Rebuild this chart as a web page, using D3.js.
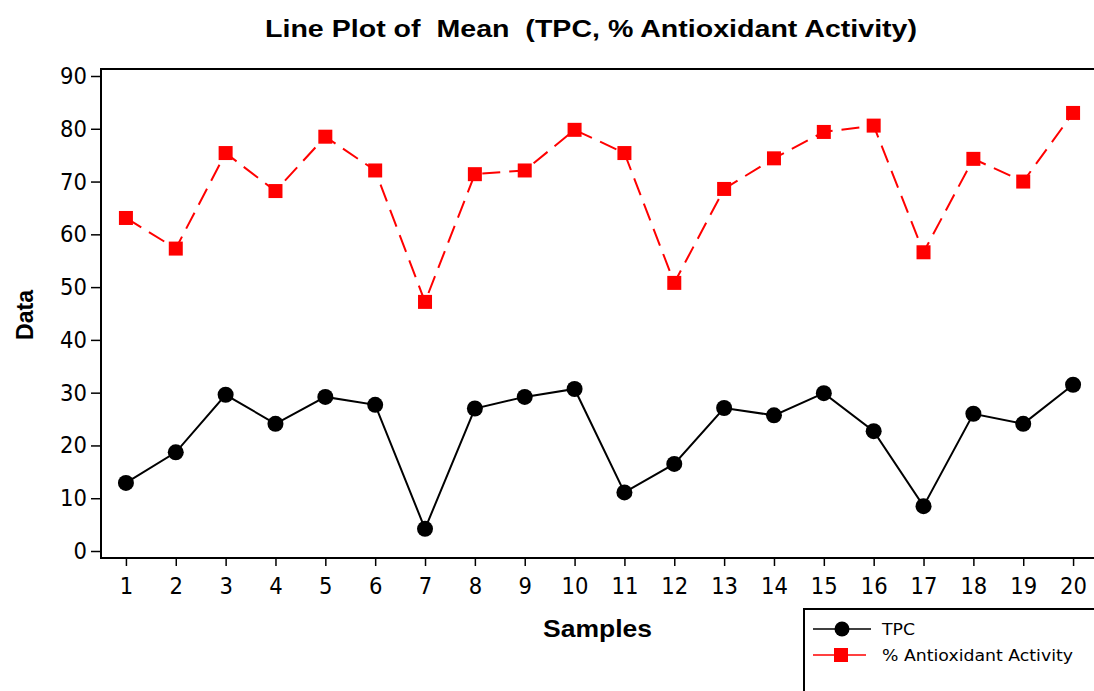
<!DOCTYPE html>
<html><head><meta charset="utf-8">
<script src="https://cdn.jsdelivr.net/npm/d3@7"></script>
<style>body{margin:0;background:#fff}svg{display:block}</style>
</head><body><svg id="c" width="1094" height="691"></svg>
<script>
const samples = d3.range(1, 21);
const tpc = [12.9, 18.7, 29.6, 24.1, 29.2, 27.7, 4.2, 27.0, 29.2, 30.7, 11.1, 16.5, 27.1, 25.7, 29.9, 22.7, 8.5, 26.0, 24.1, 31.5];
const antiox = [63.1, 57.3, 75.4, 68.2, 78.5, 72.1, 47.2, 71.4, 72.1, 79.8, 75.4, 50.8, 68.6, 74.4, 79.4, 80.6, 56.6, 74.3, 70.0, 83.0];
const yTicks = [0, 10, 20, 30, 40, 50, 60, 70, 80, 90];
const seriesNames = ["TPC", "% Antioxidant Activity"];

(function () {
const svg = d3.select("#c");
const pLeft = 101, pTop = 69, pBottom = 558;
const tickFont = "DejaVu Sans Condensed, DejaVu Sans, Tahoma, sans-serif";
const legFont = "DejaVu Sans, Verdana, sans-serif";
const boldFont = "Liberation Sans, Arial, sans-serif";
const x = d3.scaleLinear().domain([0.5, 20.5]).range([pLeft, pLeft + 20 * 49.85]);
const y = d3.scaleLinear().domain([0, 90]).range([551, 76]);

svg.append("text").attr("x", 265).attr("y", 37)
  .attr("font-family", boldFont).attr("font-weight", "bold")
  .attr("font-size", 24).attr("textLength", 652).attr("lengthAdjust", "spacingAndGlyphs")
  .text("Line Plot of\u00a0 Mean\u00a0 (TPC, % Antioxidant Activity)");

svg.append("path").attr("d", `M${pLeft},${pBottom}V${pTop}H1100`).attr("fill", "none")
  .attr("stroke", "#000").attr("stroke-width", 2);
svg.append("line").attr("x1", pLeft - 1).attr("x2", 1100).attr("y1", pBottom).attr("y2", pBottom)
  .attr("stroke", "#000").attr("stroke-width", 2);

const ya = svg.append("g").attr("transform", `translate(${pLeft - 1},0)`)
  .call(d3.axisLeft(y).tickValues(yTicks).tickSize(9).tickPadding(4));
ya.select(".domain").remove();
ya.selectAll(".tick line").attr("stroke-width", 1.5);
ya.selectAll("text").attr("font-family", tickFont).attr("font-size", 23.5).attr("fill", "#000");

const xa = svg.append("g").attr("transform", `translate(0,${pBottom + 1})`)
  .call(d3.axisBottom(x).tickValues(samples).tickSize(7).tickPadding(11).tickFormat(d3.format("d")));
xa.select(".domain").remove();
xa.selectAll(".tick line").attr("stroke-width", 1.5);
xa.selectAll("text").attr("font-family", tickFont).attr("font-size", 23.5).attr("fill", "#000");

svg.append("text").attr("x", 543).attr("y", 637)
  .attr("font-family", boldFont).attr("font-weight", "bold")
  .attr("font-size", 24).attr("textLength", 109).attr("lengthAdjust", "spacingAndGlyphs").text("Samples");
svg.append("text").attr("transform", "translate(33,340) rotate(-90)")
  .attr("font-family", boldFont).attr("font-weight", "bold")
  .attr("font-size", 24).attr("textLength", 50).attr("lengthAdjust", "spacingAndGlyphs").text("Data");

const line = d3.line().x((d, i) => x(samples[i])).y(d => y(d));

svg.append("path").datum(antiox).attr("d", line).attr("fill", "none")
  .attr("stroke", "#ff0000").attr("stroke-width", 2).attr("stroke-dasharray", "18,9");
svg.append("g").selectAll("rect").data(antiox).join("rect")
  .attr("x", (d, i) => x(samples[i]) - 7).attr("y", d => y(d) - 7)
  .attr("width", 14).attr("height", 14).attr("fill", "#ff0000");

svg.append("path").datum(tpc).attr("d", line).attr("fill", "none")
  .attr("stroke", "#000").attr("stroke-width", 2);
svg.append("g").selectAll("circle").data(tpc).join("circle")
  .attr("cx", (d, i) => x(samples[i])).attr("cy", d => y(d)).attr("r", 8).attr("fill", "#000");

const lg = svg.append("g");
lg.append("rect").attr("x", 804).attr("y", 609).attr("width", 300).attr("height", 100)
  .attr("fill", "#fff").attr("stroke", "#000").attr("stroke-width", 2);
const rows = [{n: seriesNames[0], c: "#000", yy: 629, m: "circle", w: 33}, {n: seriesNames[1], c: "#ff0000", yy: 655, m: "rect", w: 191}];
rows.forEach(r => {
  lg.append("line").attr("x1", 813).attr("x2", r.m === "circle" ? 871 : 866).attr("y1", r.yy).attr("y2", r.yy)
    .attr("stroke", r.c).attr("stroke-width", 1.5);
  if (r.m === "circle") lg.append("circle").attr("cx", 842).attr("cy", r.yy).attr("r", 7.5).attr("fill", r.c);
  else lg.append("rect").attr("x", 834).attr("y", r.yy - 7).attr("width", 14).attr("height", 14).attr("fill", r.c);
  lg.append("text").attr("x", 882).attr("y", r.yy + 6).attr("font-family", legFont)
    .attr("font-size", 16).attr("fill", "#000").attr("textLength", r.w).attr("lengthAdjust", "spacingAndGlyphs").text(r.n);
});
})();
</script></body></html>
